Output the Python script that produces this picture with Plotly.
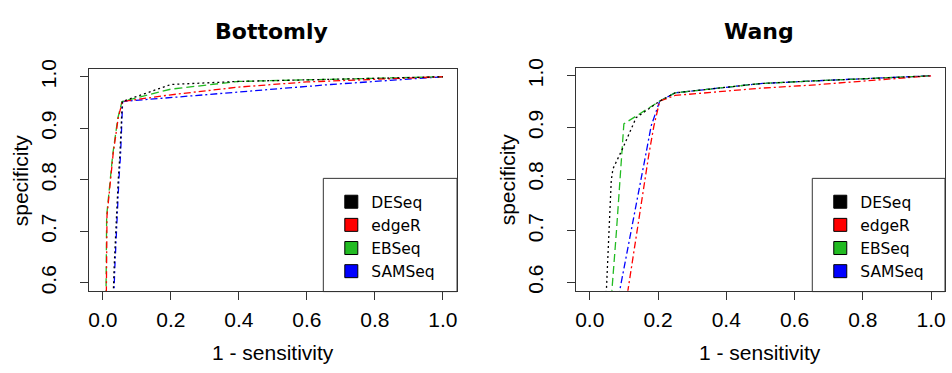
import plotly.graph_objects as go

W, H = 952, 373

methods = ["DESeq", "edgeR", "EBSeq", "SAMSeq"]
colors = {"DESeq": "#000000", "edgeR": "#FF0000", "EBSeq": "#22BB22", "SAMSeq": "#0000FF"}
dashes = {"DESeq": "2px,3px", "edgeR": "2px,3px,7px,3px", "EBSeq": "8px,4px", "SAMSeq": "7px,3px,2px,3px"}

# Bottomly panel: x = 1 - sensitivity, y = specificity
bottomly_DESeq_x = [0.030, 0.033, 0.045, 0.050, 0.057, 0.20, 0.40, 1.0]
bottomly_DESeq_y = [0.57, 0.63, 0.80, 0.85, 0.952, 0.985, 0.991, 1.0]
bottomly_edgeR_x = [0.010, 0.012, 0.030, 0.045, 0.057, 0.20, 0.40, 0.60, 1.0]
bottomly_edgeR_y = [0.57, 0.73, 0.85, 0.92, 0.952, 0.965, 0.980, 0.990, 1.0]
bottomly_EBSeq_x = [0.009, 0.011, 0.029, 0.044, 0.056, 0.20, 0.40, 1.0]
bottomly_EBSeq_y = [0.57, 0.73, 0.85, 0.92, 0.952, 0.976, 0.991, 1.0]
bottomly_SAMSeq_x = [0.032, 0.035, 0.047, 0.052, 0.058, 0.40, 0.67, 1.0]
bottomly_SAMSeq_y = [0.57, 0.63, 0.80, 0.85, 0.952, 0.970, 0.985, 1.0]

# Wang panel
wang_DESeq_x = [0.047, 0.049, 0.063, 0.068, 0.097, 0.136, 0.205, 0.25, 0.50, 0.65, 1.0]
wang_DESeq_y = [0.57, 0.588, 0.797, 0.820, 0.860, 0.919, 0.951, 0.967, 0.985, 0.990, 1.0]
wang_edgeR_x = [0.108, 0.112, 0.173, 0.188, 0.205, 0.25, 0.50, 0.65, 1.0]
wang_edgeR_y = [0.57, 0.585, 0.847, 0.903, 0.951, 0.962, 0.976, 0.982, 1.0]
wang_EBSeq_x = [0.064, 0.065, 0.078, 0.093, 0.100, 0.205, 0.25, 0.50, 0.65, 1.0]
wang_EBSeq_y = [0.57, 0.585, 0.697, 0.853, 0.907, 0.951, 0.967, 0.985, 0.990, 1.0]
wang_SAMSeq_x = [0.084, 0.088, 0.164, 0.180, 0.205, 0.25, 0.50, 0.65, 1.0]
wang_SAMSeq_y = [0.57, 0.585, 0.847, 0.903, 0.951, 0.967, 0.985, 0.990, 1.0]

titles = ["Bottomly", "Wang"]
tick_vals_x = [0.0, 0.2, 0.4, 0.6, 0.8, 1.0]
tick_vals_y = [0.6, 0.7, 0.8, 0.9, 1.0]

panels = [
    {"DESeq": (bottomly_DESeq_x, bottomly_DESeq_y), "edgeR": (bottomly_edgeR_x, bottomly_edgeR_y),
     "EBSeq": (bottomly_EBSeq_x, bottomly_EBSeq_y), "SAMSeq": (bottomly_SAMSeq_x, bottomly_SAMSeq_y)},
    {"DESeq": (wang_DESeq_x, wang_DESeq_y), "edgeR": (wang_edgeR_x, wang_edgeR_y),
     "EBSeq": (wang_EBSeq_x, wang_EBSeq_y), "SAMSeq": (wang_SAMSeq_x, wang_SAMSeq_y)},
]

FONT = "Liberation Sans, Arial, sans-serif"
WIDE = "DejaVu Sans, sans-serif"
fig = go.Figure()

# plot boxes in pixels
boxes = [(88.5, 456.5, 61.5, 291.5), (576.3, 945.7, 60.5, 291.0)]
legend_boxes = [(323, 457, 175, 292), (813, 946, 175, 292)]

for i, data in enumerate(panels):
    xa = "x" if i == 0 else "x2"
    ya = "y" if i == 0 else "y2"
    lg = "legend" if i == 0 else "legend2"
    for m in ["SAMSeq", "EBSeq", "edgeR", "DESeq"]:
        xs, ys = data[m]
        fig.add_trace(go.Scatter(x=xs, y=ys, mode="lines", xaxis=xa, yaxis=ya,
                                 line=dict(color=colors[m], dash=dashes[m], width=1.3),
                                 showlegend=False, hoverinfo="skip"))
    for m in methods:
        fig.add_trace(go.Scatter(x=[None], y=[None], mode="markers", xaxis=xa, yaxis=ya,
                                 name=m, legend=lg,
                                 marker=dict(symbol="square", size=13, color=colors[m],
                                             line=dict(color="#000000", width=1))))

axis_common = dict(showgrid=False, zeroline=False, showline=True, mirror=True,
                   linecolor="#333333", linewidth=1, ticks="outside", ticklen=8,
                   tickcolor="#333333", tickfont=dict(family=FONT, size=21, color="#000000"))

layout = dict(width=W, height=H, margin=dict(l=0, r=0, t=0, b=0),
              plot_bgcolor="white", paper_bgcolor="white",
              font=dict(family=FONT, color="#000000"))

for i, (x0, x1, ytop, ybot) in enumerate(boxes):
    sx = "" if i == 0 else "2"
    layout["xaxis" + sx] = dict(axis_common, domain=[x0 / W, x1 / W], range=[-0.04, 1.04],
                                tickvals=tick_vals_x, tickformat=".1f", ticklabelstandoff=2,
                                anchor="y" + sx)
    layout["yaxis" + sx] = dict(axis_common, domain=[(H - ybot) / H, (H - ytop) / H],
                                range=[0.584, 1.016], tickvals=tick_vals_y, tickformat=".1f",
                                tickangle=-90, ticklabelstandoff=16, anchor="x" + sx)

annotations = []
shapes = []
for i, (x0, x1, ytop, ybot) in enumerate(boxes):
    cx = (x0 + x1) / 2
    annotations.append(dict(text="<b>%s</b>" % titles[i], x=(cx - 1) / W, y=(H - 23) / H, xref="paper",
                            yref="paper", xanchor="center", yanchor="middle", showarrow=False,
                            font=dict(family=WIDE, size=22, color="#000000")))
    annotations.append(dict(text="1 - sensitivity", x=cx / W, y=(H - 355) / H, xref="paper",
                            yref="paper", xanchor="center", yanchor="middle", showarrow=False,
                            font=dict(family=FONT, size=21, color="#000000")))
    annotations.append(dict(text="specificity", x=(x0 - 69) / W, y=(H - (ytop + ybot) / 2) / H,
                            xref="paper", yref="paper", xanchor="center", yanchor="middle",
                            textangle=-90, showarrow=False,
                            font=dict(family=FONT, size=21, color="#000000")))
    lx0, lx1, ly0, ly1 = legend_boxes[i]
    shapes.append(dict(type="rect", xref="paper", yref="paper", x0=lx0 / W, x1=lx1 / W,
                       y0=(H - ly1) / H, y1=(H - ly0) / H,
                       line=dict(color="#333333", width=1), fillcolor="rgba(0,0,0,0)"))
    key = "legend" if i == 0 else "legend2"
    layout[key] = dict(x=(lx0 + 8) / W, y=(H - ly0 - 7) / H, xanchor="left", yanchor="top",
                       bgcolor="rgba(0,0,0,0)", borderwidth=0,
                       font=dict(family=WIDE, size=15.5, color="#000000"),
                       itemsizing="trace", tracegroupgap=0)

layout["annotations"] = annotations
layout["shapes"] = shapes
fig.update_layout(**layout)
fig.write_html("out.html", config={"displayModeBar": False},
               post_script="document.body.style.margin='0';document.body.style.overflow='hidden';")
